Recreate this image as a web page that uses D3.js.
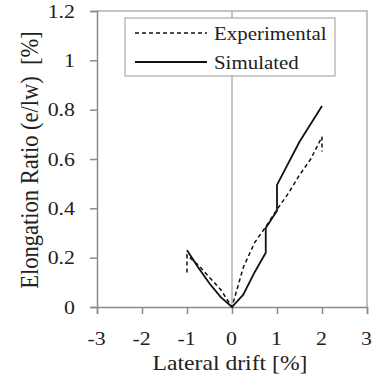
<!DOCTYPE html>
<html lang="en">
<head>
    <meta charset="utf-8">
    <title>Elongation ratio vs lateral drift</title>
    <script src="https://cdnjs.cloudflare.com/ajax/libs/d3/7.8.5/d3.min.js"></script>
    <style>
        body { margin: 0; background: #fff; }
        svg { display: block; }
        text { fill: #222; font-family: "Liberation Serif", "DejaVu Serif", serif; }
    </style>
</head>
<body>
    <svg width="374" height="380"></svg>

    <script>
        // datos
        const experimental = [
            [-1, 0.14], [-1, 0.21], [-0.75, 0.17], [-0.5, 0.12], [-0.25, 0.07], [0, 0],
            [0.25, 0.16], [0.5, 0.26], [0.75, 0.325], [1, 0.395], [1.25, 0.46],
            [1.5, 0.535], [1.75, 0.6], [2, 0.69], [2, 0.63]
        ];
        const simulated = [
            [-1, 0.23], [-0.75, 0.16], [-0.5, 0.095], [-0.25, 0.04], [0, 0],
            [0.25, 0.05], [0.5, 0.14], [0.75, 0.22], [0.75, 0.32], [1, 0.39],
            [1, 0.495], [1.5, 0.67], [2, 0.815]
        ];
        const xTicks = [-3, -2, -1, 0, 1, 2, 3];
        const yTicks = [0, 0.2, 0.4, 0.6, 0.8, 1, 1.2];
        const legendItems = [
            { name: "Experimental", dash: "4,3" },
            { name: "Simulated", dash: null }
        ];

        const svg = d3.select("svg");
        const margin = { left: 97, right: 7, top: 11, bottom: 73 };
        const width = 374, height = 380;
        const stretch = 1.1; // el original esta un poco ensanchado

        const x = d3.scaleLinear().domain([-3, 3]).range([margin.left, width - margin.right]);
        const y = d3.scaleLinear().domain([0, 1.2]).range([height - margin.bottom, margin.top]);

        const axisColor = "#8a8a8a";

        // marco superior y derecho
        svg.append("path")
            .attr("d", `M${x(-3)},${y(1.2)}H${x(3)}V${y(0)}`)
            .attr("fill", "none")
            .attr("stroke", "#b0b0b0")
            .attr("stroke-width", 1.5);

        // linea vertical en x = 0
        svg.append("line")
            .attr("x1", x(0)).attr("x2", x(0))
            .attr("y1", y(1.2)).attr("y2", y(0))
            .attr("stroke", axisColor)
            .attr("stroke-width", 1);

        const xAxis = svg.append("g")
            .attr("transform", `translate(0,${y(0)})`)
            .call(d3.axisBottom(x).tickValues(xTicks).tickSize(7).tickFormat(d => String(d)));

        const yAxis = svg.append("g")
            .attr("transform", `translate(${x(-3)},0)`)
            .call(d3.axisLeft(y).tickValues(yTicks).tickSize(7).tickFormat(d => String(+d.toFixed(1))));

        [xAxis, yAxis].forEach(a => {
            a.attr("font-family", null).attr("font-size", null);
            a.select(".domain").attr("stroke", axisColor).attr("stroke-width", 1.5);
            a.selectAll(".tick line").attr("stroke", axisColor).attr("stroke-width", 1.5);
        });

        xAxis.selectAll(".tick text")
            .attr("y", 0).attr("dy", null)
            .attr("font-size", 19)
            .attr("transform", `translate(-1,38) scale(${stretch + 0.05},1)`);

        yAxis.selectAll(".tick text")
            .attr("x", 0).attr("dy", "0.33em")
            .attr("font-size", 19)
            .attr("transform", `translate(-22,0) scale(${stretch + 0.05},1)`);

        const line = d3.line().x(d => x(d[0])).y(d => y(d[1]));

        svg.append("path")
            .datum(experimental)
            .attr("d", line)
            .attr("fill", "none")
            .attr("stroke", "#111")
            .attr("stroke-width", 1.5)
            .attr("stroke-dasharray", "4,3");

        svg.append("path")
            .datum(simulated)
            .attr("d", line)
            .attr("fill", "none")
            .attr("stroke", "#111")
            .attr("stroke-width", 1.8);

        // leyenda
        const legend = svg.append("g").attr("transform", "translate(125,18)");
        legend.append("rect")
            .attr("width", 210).attr("height", 58)
            .attr("fill", "#fff")
            .attr("stroke", "#999")
            .attr("stroke-width", 1);

        legendItems.forEach((d, i) => {
            const ly = 15 + i * 29;
            legend.append("line")
                .attr("x1", 10).attr("x2", 82)
                .attr("y1", ly).attr("y2", ly)
                .attr("stroke", "#111")
                .attr("stroke-width", d.dash ? 1.5 : 2)
                .attr("stroke-dasharray", d.dash);
            legend.append("text")
                .attr("transform", `translate(89,${ly}) scale(${stretch},1)`)
                .attr("dy", "0.35em")
                .attr("font-size", 19)
                .text(d.name);
        });

        // titulos de ejes
        svg.append("text")
            .attr("transform", `translate(230,370) scale(${stretch},1)`)
            .attr("text-anchor", "middle")
            .attr("font-size", 21.5)
            .text("Lateral drift [%]");

        svg.append("text")
            .attr("transform", `translate(38,160) scale(${stretch},1) rotate(-90)`)
            .attr("text-anchor", "middle")
            .attr("font-size", 22.5)
            .style("white-space", "pre")
            .text("Elongation Ratio (e/lw)  [%]");
    </script>
</body>
</html>
